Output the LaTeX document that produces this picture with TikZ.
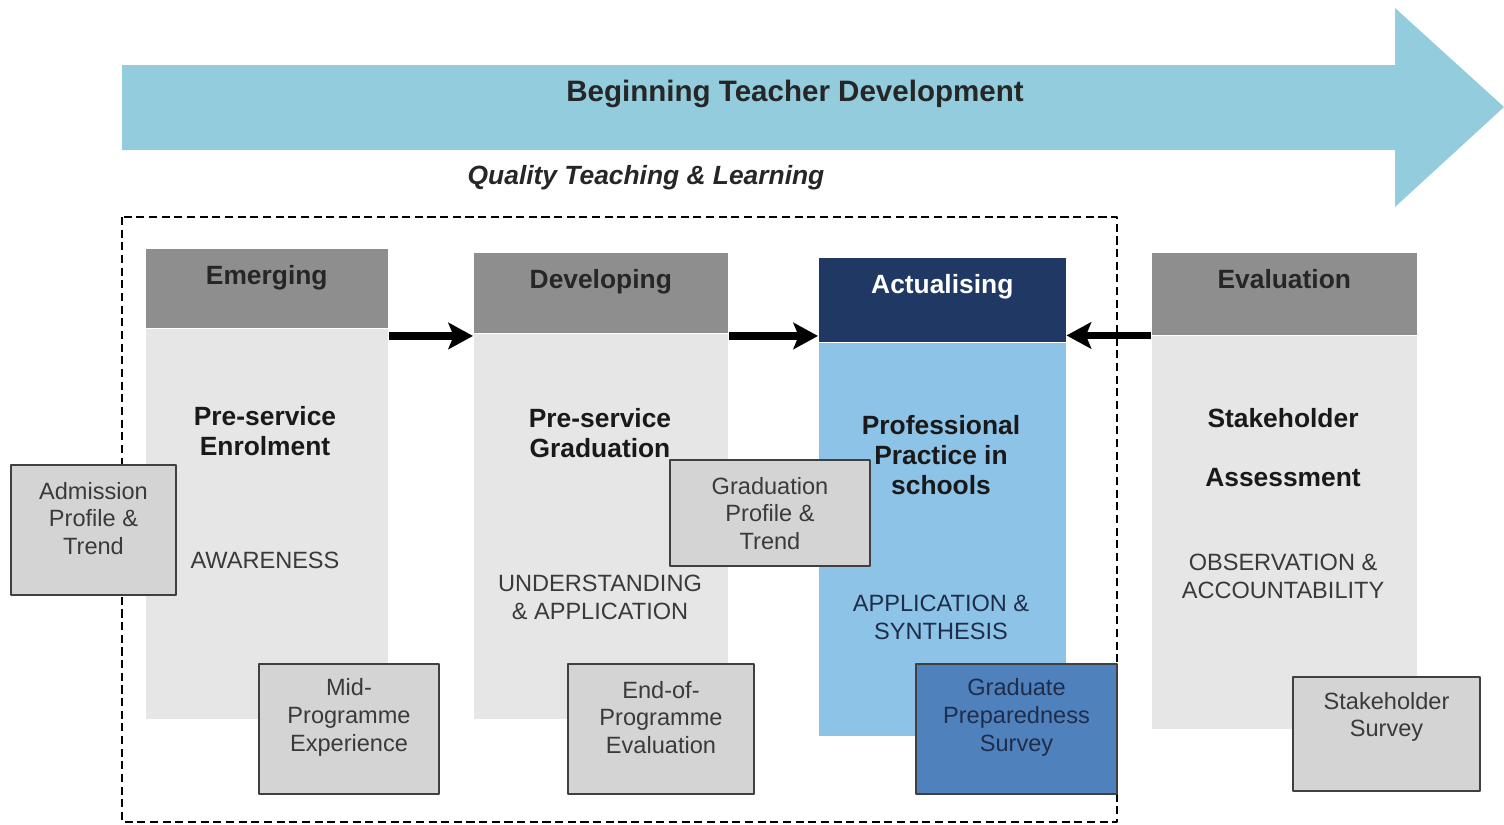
\documentclass[tikz,border=0pt]{standalone}
\usepackage{fontspec}
\setmainfont{Liberation Sans}
\usetikzlibrary{arrows.meta,positioning}
\definecolor{arrowblue}{HTML}{93CDDD}
\definecolor{headgray}{HTML}{8E8E8E}
\definecolor{bodygray}{HTML}{E6E6E6}
\definecolor{boxgray}{HTML}{D4D4D4}
\definecolor{navy}{HTML}{1F3864}
\definecolor{actblue}{HTML}{8CC3E7}
\definecolor{gradblue}{HTML}{4F81BD}
\definecolor{txtgray}{HTML}{3A3A3A}
\definecolor{darkblue}{HTML}{1F2D4A}
\begin{document}
\begin{tikzpicture}[x=0.01cm,y=-0.01cm, line join=round,
	head/.style={fill=headgray, text=black!85, inner sep=0pt, text height=0.36cm, font=\fontsize{7.5}{9}\selectfont\bfseries},
	body/.style={fill=bodygray, inner sep=0pt},
	bold/.style={align=center, inner sep=0pt, text=black!90, font=\fontsize{7.5}{8.6}\selectfont\bfseries},
	caps/.style={align=center, inner sep=0pt, text=txtgray, font=\fontsize{6.7}{7.9}\selectfont},
	sbox/.style={draw=black!75, line width=0.8pt, fill=boxgray, inner sep=0pt},
	stxt/.style={align=center, inner sep=0pt, text=txtgray, font=\fontsize{6.7}{7.9}\selectfont},
	flow/.style={line width=2.2pt, -{Stealth[length=7pt,width=7.5pt,inset=1.5pt]}}]
	\useasboundingbox (0,0) rectangle (1504,824);
	% big arrow
	\fill[arrowblue] (122,65)--(1395,65)--(1395,8)--(1504,107)--(1395,207)--(1395,150)--(122,150)--cycle;
	\node[font=\fontsize{8.4}{10}\selectfont\bfseries, text=black!85] (title) at (795,94) {Beginning Teacher Development};
	\node[font=\fontsize{7.5}{9}\selectfont\bfseries\itshape, text=black!85] (quality) at (646,178) {Quality Teaching \& Learning};
	% columns
	\node[head, anchor=north west, minimum width=2.42cm, text depth=0.43cm] (emhead) at (145,248) {Emerging};
	\node[body, below=0pt of emhead, minimum width=2.42cm, minimum height=3.90cm] (embody) {};
	\node[head, anchor=north west, minimum width=2.54cm, text depth=0.44cm] (devhead) at (473,252) {Developing};
	\node[body, below=0pt of devhead, minimum width=2.54cm, minimum height=3.85cm] (devbody) {};
	\node[head, fill=navy, text=white, anchor=north west, minimum width=2.47cm, text depth=0.48cm] (acthead) at (818,257) {Actualising};
	\node[body, fill=actblue, below=0pt of acthead, minimum width=2.47cm, minimum height=3.93cm] (actbody) {};
	\node[head, anchor=north west, minimum width=2.65cm, text depth=0.46cm] (evhead) at (1151,252) {Evaluation};
	\node[body, below=0pt of evhead, minimum width=2.65cm, minimum height=3.93cm] (evbody) {};
	\draw[flow] ([yshift=-0.025cm]devhead.south west -| emhead.east) -- ([yshift=-0.025cm]devhead.south west);
	\draw[flow] ([yshift=-0.025cm]devhead.south east) -- ([yshift=-0.025cm]devhead.south east -| acthead.west);
	\draw[flow] (evhead.south west) -- (evhead.south west -| acthead.east);
	\draw[line width=0.7pt, dash pattern=on 2.3pt off 1.3pt] (122,217) rectangle (1117,822);
	% column texts
	\node[bold] (enrol) at (265,431) {Pre-service\\Enrolment};
	\node[caps] (aware) at (265,560) {AWARENESS};
	\node[bold] (gradu) at (600,433) {Pre-service\\Graduation};
	\node[caps] (under) at (600,597) {UNDERSTANDING\\\& APPLICATION};
	\node[bold] (pract) at (941,455) {Professional\\Practice in\\schools};
	\node[caps, text=darkblue] (synth) at (941,617) {APPLICATION \&\\SYNTHESIS};
	\node[bold] (stake) at (1283,418) {Stakeholder};
	\node[bold] (assess) at (1283,478) {Assessment};
	\node[caps] (observ) at (1283,576) {OBSERVATION \&\\ACCOUNTABILITY};
	% small boxes
	\node[sbox, minimum width=1.65cm, minimum height=1.30cm] (adm) at (93.5,530) {};
	\node[stxt] at (93.5,518.5) {Admission\\Profile \&\\Trend};
	\node[sbox, minimum width=1.80cm, minimum height=1.30cm] (mid) at (349,729) {};
	\node[stxt] at (349,717.5) {Mid-\\Programme\\Experience};
	\node[sbox, minimum width=2.00cm, minimum height=1.06cm] (grad) at (770,513) {};
	\node[stxt] at (770,513.5) {Graduation\\Profile \&\\Trend};
	\node[sbox, minimum width=1.86cm, minimum height=1.30cm] (endp) at (661,729) {};
	\node[stxt] at (661,717.5) {End-of-\\Programme\\Evaluation};
	\node[sbox, fill=gradblue, minimum width=2.01cm, minimum height=1.30cm] (prep) at (1016.5,729) {};
	\node[stxt, text=darkblue] at (1016.5,717.5) {Graduate\\Preparedness\\Survey};
	\node[sbox, minimum width=1.87cm, minimum height=1.14cm] (survey) at (1386.5,734) {};
	\node[stxt] at (1386.5,717) {Stakeholder\\Survey};
\end{tikzpicture}
\end{document}
